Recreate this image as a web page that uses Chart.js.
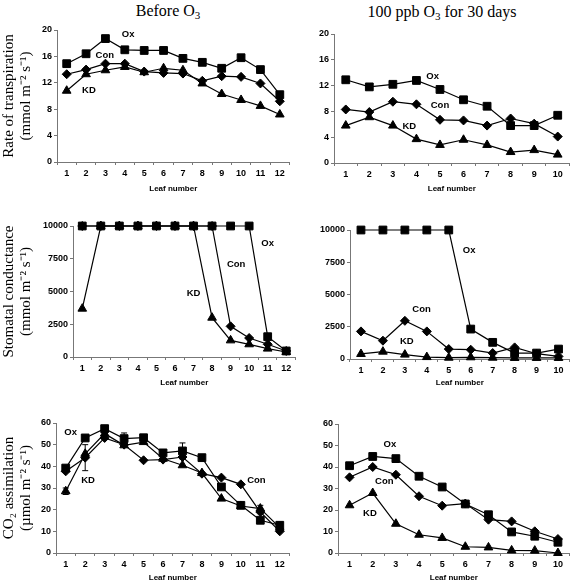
<!DOCTYPE html>
<html>
<head>
<meta charset="utf-8">
<script src="https://cdn.jsdelivr.net/npm/chart.js@4.4.0/dist/chart.umd.min.js"></script>
<style>
body { margin: 0; background: #fff; }
#wrap { position: relative; width: 576px; height: 583px; overflow: hidden; background: #fff; }
canvas { position: absolute; }
.coltitle { position: absolute; font-family: 'Liberation Serif', 'Times New Roman', serif; font-size: 16px; line-height: 16px; white-space: nowrap; transform: translateX(-50%); color: #000; }
.coltitle sub { font-size: 11px; vertical-align: -3px; line-height: 0; }
</style>
</head>
<body>
<div id="wrap">
  <div class="coltitle" style="left:168px;top:3px">Before O<sub>3</sub></div>
  <div class="coltitle" style="left:442px;top:4px">100 ppb O<sub>3</sub> for 30 days</div>
  <canvas id="p1"></canvas>
  <canvas id="p2"></canvas>
  <canvas id="p3"></canvas>
  <canvas id="p4"></canvas>
  <canvas id="p5"></canvas>
  <canvas id="p6"></canvas>
</div>
<script>
// categories
const leaves12 = ['1', '2', '3', '4', '5', '6', '7', '8', '9', '10', '11', '12'];
const leaves10 = ['1', '2', '3', '4', '5', '6', '7', '8', '9', '10'];

// transpiration, before O3
const transBeforeOx = [14.9, 16.4, 18.7, 17.0, 16.9, 16.9, 15.7, 15.1, 14.2, 15.8, 14.0, 10.2];
const transBeforeCon = [13.3, 14.0, 14.9, 14.9, 13.7, 13.5, 13.4, 12.3, 13.0, 12.9, 11.9, 9.2];
const transBeforeKD = [10.8, 13.3, 13.9, 14.4, 13.6, 14.2, 13.9, 11.9, 10.3, 9.4, 8.5, 7.2];

// transpiration, 100 ppb O3
const trans100Ox = [12.9, 11.8, 12.2, 12.8, 11.4, 9.8, 8.8, 5.8, 5.8, 7.4];
const trans100Con = [8.3, 7.9, 9.5, 9.1, 6.7, 6.6, 5.8, 6.9, 6.1, 4.1];
const trans100KD = [5.8, 7.1, 5.8, 3.7, 2.8, 3.6, 2.8, 1.7, 2.0, 1.3];

// stomatal conductance, before O3
const condBeforeOx = [10000, 10000, 10000, 10000, 10000, 10000, 10000, 10000, 10000, 10000, 1550, 460];
const condBeforeCon = [10000, 10000, 10000, 10000, 10000, 10000, 10000, 10000, 2340, 1450, 970, 460];
const condBeforeKD = [3690, 10000, 10000, 10000, 10000, 10000, 10000, 3000, 1270, 970, 640, 380];

// stomatal conductance, 100 ppb O3
const cond100Ox = [10000, 10000, 10000, 10000, 10000, 2320, 1290, 460, 460, 770];
const cond100Con = [2140, 1420, 2960, 2140, 770, 720, 460, 900, 410, 200];
const cond100KD = [390, 570, 340, 150, 100, 130, 100, 80, 80, 80];

// CO2 assimilation, before O3
const co2BeforeOx = [39.2, 53.1, 57.4, 52.8, 53.2, 46.2, 47.1, 44.0, 30.5, 22.0, 15.1, 12.8];
const co2BeforeCon = [37.7, 44.0, 53.1, 50.0, 42.8, 43.1, 44.3, 36.6, 34.8, 31.7, 18.9, 10.0];
const co2BeforeKD = [28.5, 45.8, 55.1, 49.7, 51.2, 43.5, 40.5, 36.9, 25.1, 21.7, 20.5, 11.7];
const co2BeforeOxErr = [null, null, null, 2.6, null, null, 3.7, null, null, null, null, 1.5];
const co2BeforeConErr = [null, 6.0, null, null, null, null, null, null, null, null, null, null];
const co2BeforeKDErr = [1.5, null, null, null, null, null, null, null, null, null, 1.5, null];

// CO2 assimilation, 100 ppb O3
const co2100Ox = [40.6, 44.9, 43.9, 35.7, 30.7, 22.8, 17.8, 9.8, 7.8, 5.0];
const co2100Con = [35.2, 40.0, 36.4, 26.4, 22.0, 23.0, 15.5, 14.7, 10.1, 6.5];
const co2100KD = [22.2, 27.9, 13.6, 8.5, 7.0, 2.9, 2.6, 1.2, 1.1, 0];

// where the series names sit, as [leaf, value] for Ox, Con, KD
const transBeforeTags = [[4.17, 19.3], [2.97, 16.2], [2.15, 10.9]];
const trans100Tags = [[4.69, 13.5], [5.0, 8.9], [3.7, 5.7]];
const condBeforeTags = [[11.0, 8700], [9.3, 7100], [7.0, 4830]];
const cond100Tags = [[5.93, 8450], [3.76, 3810], [3.09, 1370]];
const co2BeforeTags = [[1.25, 55.8], [10.8, 33.5], [2.15, 33.5]];
const co2100Tags = [[2.74, 50.4], [2.5, 33.3], [1.88, 18.3]];

const seriesNames = ['Ox', 'Con', 'KD'];
const markerStyles = ['rect', 'rectRot', 'triangle'];
const markerSizes = [5.5, 4.5, 5];

const SANS = "'Liberation Sans', Arial, sans-serif";
const SERIF = "'Liberation Serif', 'Times New Roman', serif";
const AXIS = '#777';

// error bars drawn under the markers
const errBars = {
    id: 'errBars',
    beforeDatasetsDraw(chart) {
        const ctx = chart.ctx;
        const y = chart.scales.y;
        ctx.save();
        ctx.strokeStyle = '#000';
        ctx.lineWidth = 1;
        chart.data.datasets.forEach((ds, di) => {
            if (!ds.errors) return;
            const meta = chart.getDatasetMeta(di);
            ds.errors.forEach((e, i) => {
                if (e == null) return;
                const px = meta.data[i].x;
                const top = y.getPixelForValue(ds.data[i] + e);
                const bot = y.getPixelForValue(ds.data[i] - e);
                ctx.beginPath();
                ctx.moveTo(px, top); ctx.lineTo(px, bot);
                ctx.moveTo(px - 3, top); ctx.lineTo(px + 3, top);
                ctx.moveTo(px - 3, bot); ctx.lineTo(px + 3, bot);
                ctx.stroke();
            });
        });
        ctx.restore();
    }
};

function tagPlugin(tags) {
    return {
        id: 'seriesTags',
        afterDatasetsDraw(chart) {
            const ctx = chart.ctx;
            ctx.save();
            ctx.font = 'bold 9.5px ' + SANS;
            ctx.fillStyle = '#000';
            ctx.textAlign = 'center';
            ctx.textBaseline = 'middle';
            tags.forEach((t, i) => {
                const px = chart.scales.x.getPixelForValue(t[0] - 1);
                const py = chart.scales.y.getPixelForValue(t[1]);
                ctx.fillText(seriesNames[i], px, py);
            });
            ctx.restore();
        }
    };
}

function makeChart(id, box, area, labels, series, errors, yMax, yStep, yTitle, tags) {
    const canvas = document.getElementById(id);
    canvas.width = box[2];
    canvas.height = box[3];
    canvas.style.left = box[0] + 'px';
    canvas.style.top = box[1] + 'px';
    const yWidth = area[0] - box[0];
    const padTop = area[1] - box[1];
    const padRight = box[0] + box[2] - area[2];
    const xHeight = box[1] + box[3] - area[3];

    const datasets = series.map((vals, i) => ({
        label: seriesNames[i],
        data: vals,
        errors: errors ? errors[i] : null,
        borderColor: '#000',
        borderWidth: 1.2,
        backgroundColor: '#000',
        pointBackgroundColor: '#000',
        pointBorderColor: '#000',
        pointStyle: markerStyles[i],
        pointRadius: markerSizes[i],
        pointBorderWidth: 1,
        tension: 0,
        fill: false,
        clip: false
    }));

    return new Chart(canvas, {
        type: 'line',
        data: { labels: labels, datasets: datasets },
        options: {
            responsive: false,
            animation: false,
            layout: { padding: { top: padTop, right: padRight, left: 0, bottom: 0 } },
            plugins: { legend: { display: false }, tooltip: { enabled: false } },
            scales: {
                x: {
                    type: 'category',
                    offset: true,
                    grid: { offset: true, drawOnChartArea: false, tickLength: 3, color: AXIS },
                    border: { color: AXIS },
                    ticks: { font: { family: SANS, size: 9, weight: 'bold' }, color: '#000', padding: 3, maxRotation: 0, autoSkip: false },
                    title: { display: true, text: 'Leaf number', font: { family: SANS, size: 8, weight: 'bold' }, color: '#000', padding: 0 },
                    afterFit: s => { s.height = xHeight; }
                },
                y: {
                    min: 0,
                    max: yMax,
                    grid: { drawOnChartArea: false, tickLength: 3, color: AXIS },
                    border: { color: AXIS },
                    ticks: { stepSize: yStep, font: { family: SANS, size: 9, weight: 'bold' }, color: '#000', padding: 2, callback: v => String(v) },
                    title: { display: !!yTitle, text: yTitle || '', font: { family: SERIF, size: 15, lineHeight: 1.15 }, color: '#000', padding: 0 },
                    afterFit: s => { s.width = yWidth; }
                }
            }
        },
        plugins: [errBars, tagPlugin(tags)]
    });
}

makeChart('p1', [0, 22, 296, 172], [57, 30, 293, 162], leaves12,
    [transBeforeOx, transBeforeCon, transBeforeKD], null, 20, 4,
    ['Rate of transpiration', '(mmol m\u207B\u00B2 s\u207B\u00B9)'], transBeforeTags);
makeChart('p2', [290, 22, 286, 172], [334, 34, 574, 163], leaves10,
    [trans100Ox, trans100Con, trans100KD], null, 20, 4, null, trans100Tags);
makeChart('p3', [0, 210, 302, 178], [73, 226, 300, 357], leaves12,
    [condBeforeOx, condBeforeCon, condBeforeKD], null, 10000, 2500,
    ['Stomatal conductance', '(mmol m\u207B\u00B2 s\u207B\u00B9)'], condBeforeTags);
makeChart('p4', [290, 210, 286, 178], [350, 230, 574, 359], leaves10,
    [cond100Ox, cond100Con, cond100KD], null, 10000, 2500, null, cond100Tags);
makeChart('p5', [0, 405, 296, 178], [56, 423, 293, 553], leaves12,
    [co2BeforeOx, co2BeforeCon, co2BeforeKD], [co2BeforeOxErr, co2BeforeConErr, co2BeforeKDErr], 60, 10,
    ['CO\u2082 assimilation', '(\u00B5mol m\u207B\u00B2 s\u207B\u00B9)'], co2BeforeTags);
makeChart('p6', [290, 405, 286, 178], [338, 424, 573, 553], leaves10,
    [co2100Ox, co2100Con, co2100KD], null, 60, 10, null, co2100Tags);
</script>
</body>
</html>
